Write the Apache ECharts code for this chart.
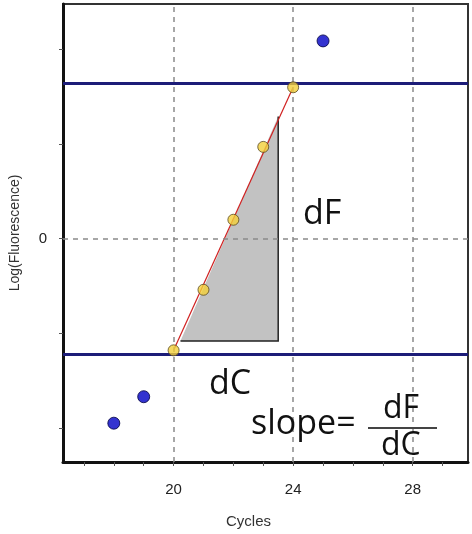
<!DOCTYPE html>
<html>
<head>
<meta charset="utf-8">
<script src="https://cdn.jsdelivr.net/npm/echarts@6/dist/echarts.min.js"></script>
<style>html,body{margin:0;padding:0;background:#fff}#c{width:472px;height:534px}</style>
</head>
<body>
<div id="c"></div>
<script>
// ---- data ----
var blueCycles = [18, 19, 25];
var blueValues = [-1.95, -1.67, 2.09];
var yellowCycles = [20, 21, 22, 23, 24];
var yellowValues = [-1.18, -0.54, 0.20, 0.97, 1.60];
var fitCycles = [20, 24];
var fitValues = [-1.18, 1.60];
var thresholds = [1.64, -1.22];
var triangleCycles = [20.23, 23.5, 23.5];
var triangleValues = [-1.08, -1.08, 1.29];
var gridCycles = [20, 24, 28];
var gridValues = [0];
var xTickValues = [17, 18, 19, 20, 21, 22, 23, 24, 25, 26, 27, 28, 29];
var xLabelValues = [20, 24, 28];
var yTickValues = [-2, -1, 0, 1, 2];
var yLabelValues = [0];

function pairs(xs, ys) { return xs.map(function (x, i) { return [x, ys[i]]; }); }

var chart = echarts.init(document.getElementById('c'), null, {renderer: 'canvas'});
var font = 'Liberation Sans, Arial, sans-serif';
var annFont = 'Open Sans, sans-serif';

var gridMarks = gridCycles.map(function (c) { return {xAxis: c}; })
  .concat(gridValues.map(function (v) { return {yAxis: v}; }));

chart.setOption({
  animation: false,
  backgroundColor: '#fff',
  grid: {left: 62, right: 4, top: 4, bottom: 70, show: true, borderColor: '#333', borderWidth: 2},
  xAxis: {
    type: 'value', min: 16.3, max: 29.85,
    name: 'Cycles', nameLocation: 'middle', nameGap: 52,
    nameTextStyle: {fontFamily: font, fontSize: 15, color: '#333', padding: [0, 34, 0, 0]},
    axisLine: {show: true, onZero: false, lineStyle: {color: '#111', width: 3}},
    axisTick: {show: true, customValues: xTickValues, length: 4, lineStyle: {color: '#555', width: 1}},
    axisLabel: {customValues: xLabelValues, margin: 20, fontFamily: font, fontSize: 15, color: '#222'},
    splitLine: {show: false}
  },
  yAxis: {
    type: 'value', min: -2.36, max: 2.48,
    name: 'Log(Fluorescence)', nameLocation: 'middle', nameGap: 41,
    nameTextStyle: {fontFamily: font, fontSize: 14, color: '#333'},
    axisLine: {show: true, onZero: false, lineStyle: {color: '#111', width: 3}},
    axisTick: {show: true, customValues: yTickValues, length: 4, lineStyle: {color: '#555', width: 1}},
    axisLabel: {customValues: yLabelValues, margin: 16, fontFamily: font, fontSize: 15, color: '#222'},
    splitLine: {show: false}
  },
  series: [
    {
      type: 'line', data: [], z: 1, silent: true,
      markLine: {
        symbol: 'none', silent: true, label: {show: false},
        lineStyle: {color: '#8a8a8a', type: [5, 5], width: 1.5},
        data: gridMarks
      }
    },
    {
      type: 'custom', z: 2, silent: true, clip: false,
      data: [[triangleCycles[0], triangleValues[0]]],
      renderItem: function (params, api) {
        var pts = pairs(triangleCycles, triangleValues).map(function (p) { return api.coord(p); });
        return {
          type: 'group',
          children: [
            {type: 'polygon', shape: {points: pts}, style: {fill: '#c2c2c2', stroke: null}},
            {type: 'polyline', shape: {points: [pts[0], pts[1], pts[2]]}, style: {fill: null, stroke: '#222', lineWidth: 1.5}}
          ]
        };
      }
    },
    {
      type: 'line', z: 3, data: pairs(fitCycles, fitValues), symbol: 'none',
      lineStyle: {color: '#d02020', width: 1.2}
    },
    {
      type: 'line', data: [], z: 4, silent: true,
      markLine: {
        symbol: 'none', silent: true, label: {show: false},
        lineStyle: {color: '#1c1c78', type: 'solid', width: 3},
        data: thresholds.map(function (t) { return {yAxis: t}; })
      }
    },
    {
      type: 'scatter', z: 5, data: pairs(yellowCycles, yellowValues),
      symbol: 'circle', symbolSize: 11,
      itemStyle: {color: '#f2cf3a', borderColor: '#5a4a20', borderWidth: 1}
    },
    {
      type: 'scatter', z: 5, data: pairs(blueCycles, blueValues),
      symbol: 'circle', symbolSize: 12,
      itemStyle: {color: '#0000c4', borderColor: '#000040', borderWidth: 1}
    }
  ],
  graphic: [
    {type: 'text', left: 303, top: 197, style: {text: 'dF', font: '34px ' + annFont, fill: '#111'}, z: 10},
    {type: 'text', left: 209, top: 367, style: {text: 'dC', font: '34px ' + annFont, fill: '#111'}, z: 10},
    {type: 'text', left: 251, top: 407, style: {text: 'slope=', font: '34px ' + annFont, fill: '#111'}, z: 10},
    {type: 'text', left: 383, top: 393, style: {text: 'dF', font: '32px ' + annFont, fill: '#111'}, z: 10},
    {type: 'text', left: 381, top: 430, style: {text: 'dC', font: '32px ' + annFont, fill: '#111'}, z: 10},
    {type: 'line', shape: {x1: 368, y1: 428, x2: 437, y2: 428}, style: {stroke: '#444', lineWidth: 2}, z: 10}
  ]
});
</script>
</body>
</html>
